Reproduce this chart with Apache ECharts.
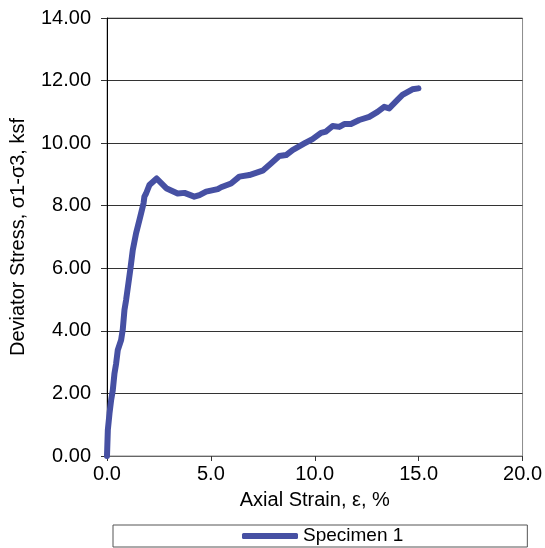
<!DOCTYPE html>
<html>
<head>
<meta charset="utf-8">
<script src="https://cdn.jsdelivr.net/npm/echarts@6/dist/echarts.min.js"></script>
<style>
  html, body { margin: 0; padding: 0; background: #fff; }
  #eChart { width: 545px; height: 548px; }
</style>
</head>
<body>
<div id="eChart"></div>
<script>
// axial strain (%) and deviator stress (ksf)
var strain = [0, 0.04, 0.12, 0.2, 0.28, 0.36, 0.44, 0.52, 0.68, 0.76, 0.84, 0.92, 1.03, 1.13, 1.24, 1.4, 1.6, 1.76, 1.8, 1.88,
  2.04, 2.12, 2.39, 2.85, 3.4, 3.73, 4.2, 4.45, 4.77, 5.33, 5.49, 5.97, 6.37, 6.85, 7.49, 7.89, 8.29, 8.62, 8.93, 9.5,
  9.89, 10.3, 10.54, 10.86, 11.18, 11.42, 11.74, 12.14, 12.62, 13.02, 13.34, 13.58, 13.98, 14.22, 14.7, 14.99];
var stress = [0, 0.83, 1.36, 1.79, 2.11, 2.64, 2.96, 3.39, 3.71, 4.05, 4.67, 4.99, 5.52, 6.0, 6.58, 7.12, 7.65, 8.08, 8.29, 8.39,
  8.66, 8.71, 8.87, 8.56, 8.39, 8.41, 8.29, 8.34, 8.45, 8.53, 8.59, 8.71, 8.93, 8.98, 9.12, 9.35, 9.59, 9.62, 9.78, 9.99,
  10.13, 10.33, 10.37, 10.55, 10.52, 10.61, 10.61, 10.74, 10.84, 11.0, 11.16, 11.11, 11.38, 11.54, 11.72, 11.75];
var seriesName = 'Specimen 1';

var font = '"Liberation Sans", Arial, sans-serif';
var lineColor = '#4650a3';
var pts = [];
for (var i = 0; i < strain.length; i++) {
  pts.push([strain[i], stress[i]]);
}

var myChart = echarts.init(document.getElementById('eChart'));
var option = {
  animation: false,
  textStyle: { fontFamily: font, color: '#000' },
  grid: {
    left: 107, right: 22, top: 18, bottom: 92,
    show: true, borderColor: '#8c8c8c', borderWidth: 1
  },
  legend: {
    data: [{ name: seriesName, icon: 'roundRect' }],
    left: 113, top: 525,
    padding: [1, 124, 1, 129],
    itemWidth: 56, itemHeight: 6, itemGap: 5,
    itemStyle: { color: lineColor },
    borderColor: '#555', borderWidth: 1,
    textStyle: { fontFamily: font, fontSize: 19, color: '#000', lineHeight: 20 }
  },
  xAxis: {
    type: 'value',
    min: 0, max: 20, interval: 5,
    name: 'Axial Strain, ε, %',
    nameLocation: 'middle',
    nameGap: 34,
    nameTextStyle: { fontFamily: font, fontSize: 20, color: '#000' },
    axisLine: { lineStyle: { color: '#666', width: 1 } },
    axisTick: { show: true, inside: false, length: 5, lineStyle: { color: '#333' } },
    axisLabel: { fontFamily: font, fontSize: 20, color: '#000', margin: 8,
      formatter: function (v) { return v.toFixed(1); } },
    splitLine: { show: false }
  },
  yAxis: {
    type: 'value',
    min: 0, max: 14, interval: 2,
    name: 'Deviator Stress, σ1-σ3, ksf',
    nameLocation: 'middle',
    nameGap: 79,
    nameTextStyle: { fontFamily: font, fontSize: 20, color: '#000' },
    axisLine: { show: true, lineStyle: { color: '#000', width: 1 } },
    axisTick: { show: true, inside: false, length: 6, lineStyle: { color: '#333' } },
    axisLabel: { fontFamily: font, fontSize: 20, color: '#000', margin: 16,
      formatter: function (v) { return v.toFixed(2); } },
    splitLine: { show: true, lineStyle: { color: '#333', width: 1 } }
  },
  series: [
    {
      name: seriesName,
      type: 'line',
      data: pts,
      symbol: 'none',
      smooth: false,
      color: lineColor,
      lineStyle: { width: 6, color: lineColor, cap: 'round', join: 'round' }
    }
  ]
};
myChart.setOption(option);
</script>
</body>
</html>
